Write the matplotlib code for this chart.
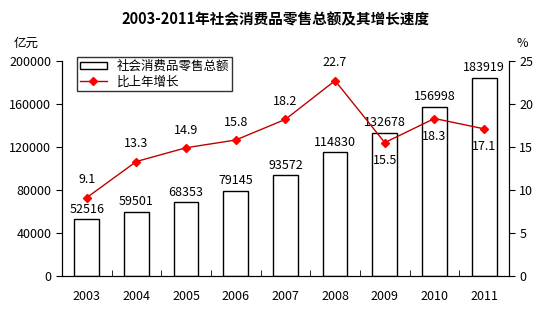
import matplotlib
matplotlib.use("Agg")
import matplotlib.pyplot as plt
import numpy as np

plt.rcParams['font.family'] = ['Noto Sans CJK SC', 'DejaVu Sans']

years = ["2003", "2004", "2005", "2006", "2007", "2008", "2009", "2010", "2011"]
sales = [52516, 59501, 68353, 79145, 93572, 114830, 132678, 156998, 183919]
growth = [9.1, 13.3, 14.9, 15.8, 18.2, 22.7, 15.5, 18.3, 17.1]

fig = plt.figure(figsize=(5.52, 3.22), dpi=100)
ax1 = fig.add_axes([0.112, 0.143, 0.81, 0.668])
x = np.arange(len(years))

# bars
ax1.bar(x, sales, width=0.5, facecolor="white", edgecolor="black", linewidth=1,
        label="社会消费品零售总额")
for i, v in enumerate(sales):
    ax1.text(x[i], v + 3500, str(v), ha="center", va="bottom", fontsize=9)
ax1.set_ylim(0, 200000)
ax1.set_yticks(np.arange(0, 200001, 40000))
ax1.set_xlim(-0.5, len(years) - 0.5)
ax1.set_xticks(x)
ax1.set_xticklabels(years)
ax1.set_xticks(np.arange(0.5, len(years) - 1, 1), minor=True)
ax1.tick_params(axis="x", which="major", length=0, pad=10, labelsize=9)
ax1.tick_params(axis="x", which="minor", direction="in", length=4)
ax1.tick_params(axis="y", labelsize=9, length=4)
ax1.spines["top"].set_visible(False)

# line on second axis
ax2 = ax1.twinx()
ax2.plot(x, growth, color="#c00000", linewidth=1, marker="D", markersize=4,
         markerfacecolor="red", markeredgecolor="red", label="比上年增长")
ax2.set_ylim(0, 25)
ax2.set_yticks(np.arange(0, 26, 5))
ax2.tick_params(axis="y", labelsize=9, length=4)
ax2.spines["top"].set_visible(False)
for i, v in enumerate(growth):
    if i >= 6:
        ax2.text(x[i], v - 1.3, str(v), ha="center", va="top", fontsize=9)
    else:
        ax2.text(x[i], v + 1.3, str(v), ha="center", va="bottom", fontsize=9)

fig.text(0.025, 0.855, "亿元", fontsize=9)
fig.text(0.935, 0.855, "%", fontsize=9)
fig.suptitle("2003-2011年社会消费品零售总额及其增长速度", y=0.965,
             fontsize=10.5, fontweight="bold")

h1, l1 = ax1.get_legend_handles_labels()
h2, l2 = ax2.get_legend_handles_labels()
ax1.legend(h1 + h2, l1 + l2, loc="upper left", bbox_to_anchor=(0.02, 1.045),
           fontsize=9, frameon=True, fancybox=False, edgecolor="black",
           borderpad=0.2, labelspacing=0.2, handlelength=2.2, handleheight=0.6)

fig.savefig("out.png", dpi=100)
